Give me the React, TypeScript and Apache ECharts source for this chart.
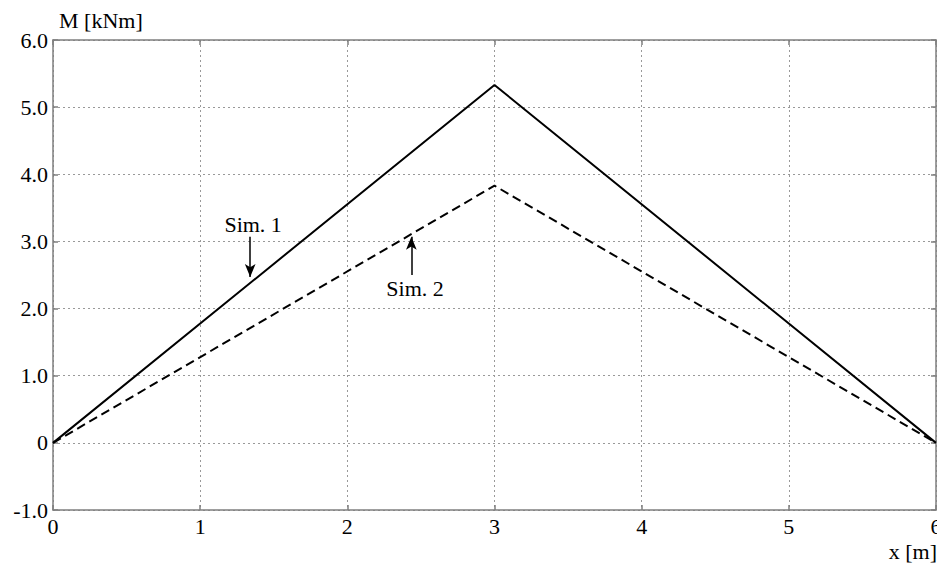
import React, { useEffect, useRef } from "react";
import * as echarts from "echarts";

const sim1: [number, number][] = [
  [0, 0],
  [3, 5.33],
  [6, 0],
];
const sim2: [number, number][] = [
  [0, 0],
  [3, 3.83],
  [6, 0],
];
const arrow1: [number, number][] = [
  [1.34, 3.07],
  [1.34, 2.47],
];
const arrow2: [number, number][] = [
  [2.435, 2.5],
  [2.435, 3.07],
];
const label1: [number, number] = [1.36, 3.25];
const label2: [number, number] = [2.46, 2.3];

const FONT = "Liberation Serif";
const AXIS_COLOR = "#7f7f7f";

export default function App() {
  const ref = useRef<HTMLDivElement>(null);
  useEffect(() => {
    document.body.style.margin = "0";
    const chart = echarts.init(ref.current!, null, { renderer: "svg" });
    const axisCommon = {
      axisLine: { show: true, onZero: false, lineStyle: { color: AXIS_COLOR, width: 1.5 } },
      axisTick: { show: true, inside: true, length: 5, lineStyle: { color: AXIS_COLOR, width: 1.5 } },
    };
    chart.setOption({
      animation: false,
      backgroundColor: "#fff",
      textStyle: { fontFamily: FONT },
      grid: { left: 53, top: 40, right: 1, bottom: 55, containLabel: false, outerBoundsMode: "none" },
      xAxis: [
        {
          type: "value",
          min: 0,
          max: 6,
          interval: 1,
          position: "bottom",
          ...axisCommon,
          axisLabel: { color: "#000", fontSize: 22, fontFamily: FONT, margin: 5 },
          splitLine: { show: true, lineStyle: { color: "#999", type: [2, 3], width: 1 } },
        },
        {
          type: "value",
          min: 0,
          max: 6,
          interval: 1,
          position: "top",
          ...axisCommon,
          axisLabel: { show: false },
          splitLine: { show: false },
        },
      ],
      yAxis: [
        {
          type: "value",
          min: -1,
          max: 6,
          interval: 1,
          position: "left",
          ...axisCommon,
          axisLabel: {
            color: "#000",
            fontSize: 22,
            fontFamily: FONT,
            margin: 5,
            formatter: (v: number) => (v === 0 ? "0" : v.toFixed(1)),
          },
          splitLine: { show: true, lineStyle: { color: "#999", type: [2, 3], width: 1 } },
        },
        {
          type: "value",
          min: -1,
          max: 6,
          interval: 1,
          position: "right",
          ...axisCommon,
          axisLabel: { show: false },
          splitLine: { show: false },
        },
      ],
      series: [
        {
          name: "Sim. 1",
          type: "line",
          data: sim1,
          symbol: "none",
          lineStyle: { color: "#000", width: 2 },
          markLine: {
            silent: true,
            symbol: ["none", "arrow"],
            symbolSize: [8, 13],
            lineStyle: { color: "#000", width: 1.5, type: "solid" },
            label: { show: false },
            data: [[{ coord: arrow1[0] }, { coord: arrow1[1] }]],
          },
          markPoint: {
            silent: true,
            symbol: "circle",
            symbolSize: 0,
            label: {
              show: true,
              formatter: "Sim. 1",
              color: "#000",
              fontSize: 22,
              fontFamily: FONT,
              position: "inside",
            },
            data: [{ coord: label1 }],
          },
        },
        {
          name: "Sim. 2",
          type: "line",
          data: sim2,
          symbol: "none",
          lineStyle: { color: "#000", width: 2, type: [9, 5] },
          markLine: {
            silent: true,
            symbol: ["none", "arrow"],
            symbolSize: [8, 13],
            lineStyle: { color: "#000", width: 1.5, type: "solid" },
            label: { show: false },
            data: [[{ coord: arrow2[0] }, { coord: arrow2[1] }]],
          },
          markPoint: {
            silent: true,
            symbol: "circle",
            symbolSize: 0,
            label: {
              show: true,
              formatter: "Sim. 2",
              color: "#000",
              fontSize: 22,
              fontFamily: FONT,
              position: "inside",
            },
            data: [{ coord: label2 }],
          },
        },
      ],
      graphic: [
        {
          type: "text",
          left: 59,
          top: 9,
          style: { text: "M [kNm]", fontSize: 22, fontFamily: FONT, fill: "#000" },
        },
        {
          type: "text",
          right: 0,
          top: 540,
          style: { text: "x [m]", fontSize: 22, fontFamily: FONT, fill: "#000" },
        },
      ],
    });
    return () => chart.dispose();
  }, []);
  return <div ref={ref} style={{ width: 937, height: 565, position: "absolute", left: 0, top: 0 }} />;
}
